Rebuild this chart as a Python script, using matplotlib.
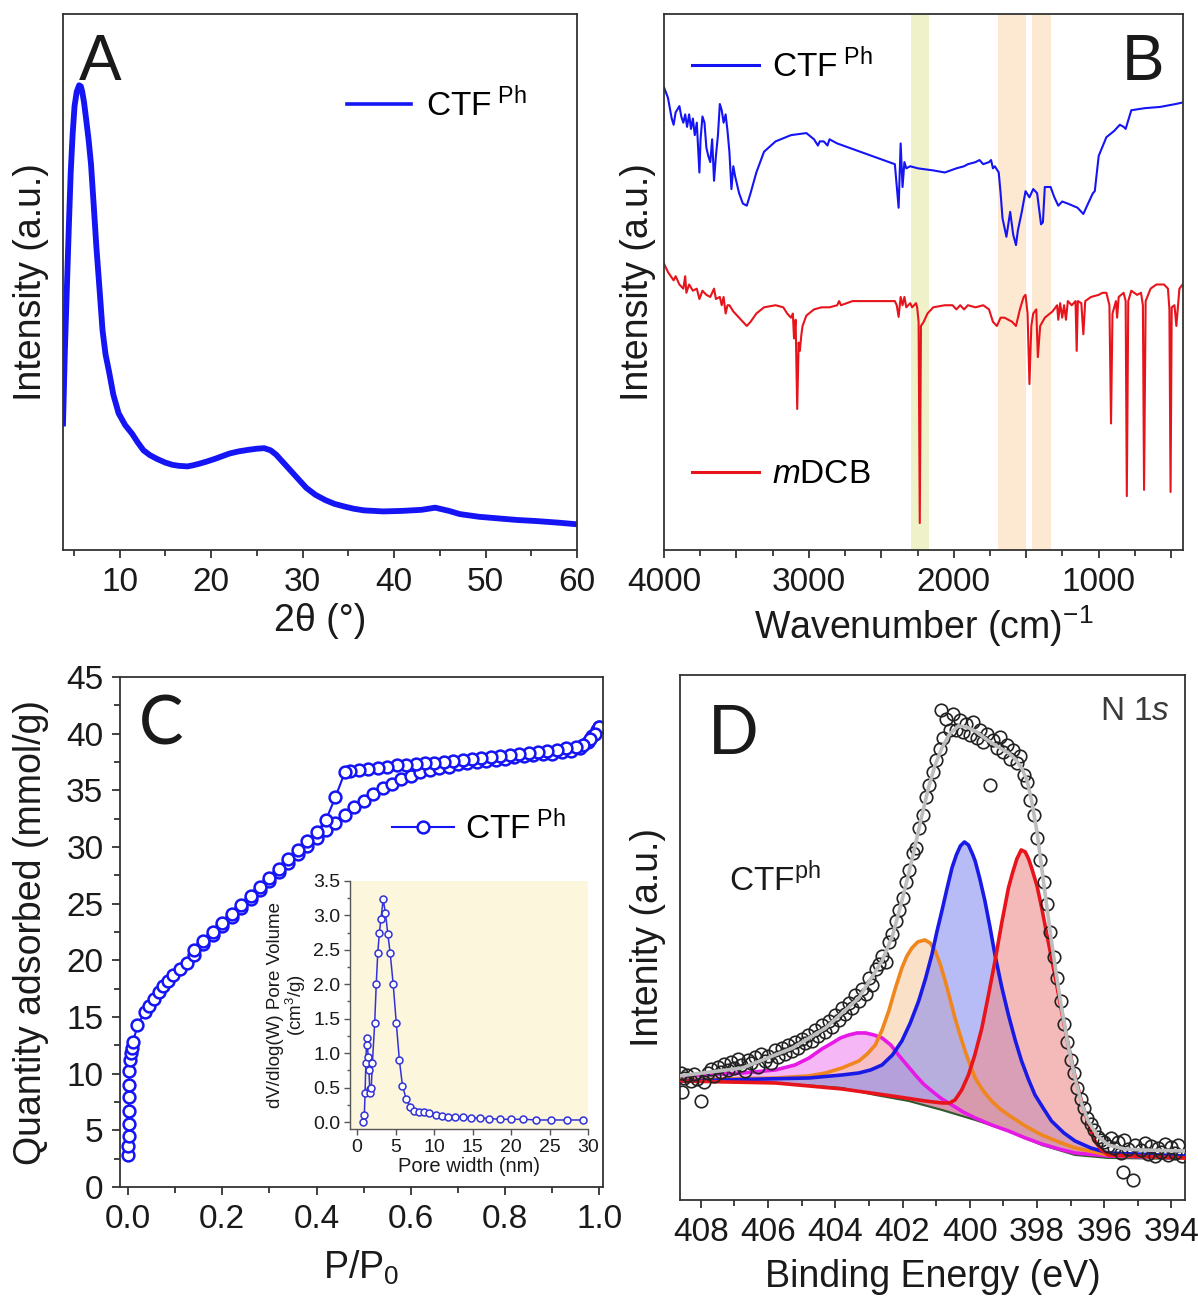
import numpy as np
import matplotlib
matplotlib.use("Agg")
import matplotlib.pyplot as plt
from matplotlib.ticker import MultipleLocator, FuncFormatter

plt.rcParams["font.family"] = ["Liberation Sans", "DejaVu Sans"]
plt.rcParams["mathtext.fontset"] = "custom"
plt.rcParams["mathtext.rm"] = "Liberation Sans"
plt.rcParams["mathtext.it"] = "Liberation Sans:italic"
plt.rcParams["mathtext.bf"] = "Liberation Sans:bold"

# ---------------- data ----------------
# A: XRD
xrd_2theta = [3.8, 4.0, 4.22, 4.43, 4.64, 4.85, 5.06, 5.3, 5.56, 5.75, 5.9, 6.1, 6.32, 6.6,
              6.86, 7.15, 7.45, 7.8, 8.12, 8.45, 8.83, 9.3, 9.88, 10.6, 11.35, 12.0, 12.6,
              13.3, 14.07, 15.0, 15.75, 16.5, 17.4, 18.0, 18.7, 19.5, 20.4, 21.2, 22.0,
              23.0, 24.1, 25.0, 25.8, 26.5, 27.1, 27.9, 28.75, 29.6, 30.4, 31.4, 32.5,
              33.5, 34.6, 35.6, 36.7, 38.8, 40.9, 43.0, 44.5, 46.0, 47.2, 49.3, 51.4,
              53.5, 55.6, 58.0, 60.0]
xrd_int = [236, 370, 488, 600, 704, 775, 828, 855, 867, 865, 855, 835, 805, 765,
           720, 645, 565, 485, 410, 365, 333, 290, 255, 233, 217, 200, 186,
           177, 170, 163, 159, 157, 156, 158, 161, 165, 170, 175, 180,
           184, 187, 189, 190, 186, 178, 163, 147, 131, 116, 103, 93,
           86, 81, 77, 74, 72, 73, 75, 79, 73, 67, 62, 59,
           56, 54, 51, 48]

# B: FTIR (wavenumber, intensity a.u.)
ctf_ir = [(4000, 1115), (3973, 1090), (3947, 1040), (3934, 1025), (3920, 1055), (3894, 1070),
          (3881, 1045), (3867, 1030), (3854, 1050), (3841, 1020), (3827, 1050), (3814, 1015),
          (3801, 1040), (3788, 1000), (3774, 1030), (3756, 910), (3748, 990), (3735, 1045),
          (3721, 1030), (3708, 970), (3695, 950), (3681, 935), (3668, 990), (3655, 890),
          (3642, 950), (3628, 1000), (3615, 1075), (3602, 1060), (3589, 1030), (3575, 1050),
          (3562, 1010), (3549, 960), (3535, 870), (3522, 925), (3509, 900), (3482, 860),
          (3456, 835), (3429, 830), (3403, 860), (3363, 910), (3310, 960), (3230, 985),
          (3124, 1000), (3018, 1005), (2965, 990), (2938, 975), (2925, 985), (2898, 985),
          (2872, 975), (2858, 990), (2805, 980), (2646, 960), (2487, 940), (2407, 930),
          (2381, 825), (2367, 980), (2354, 875), (2341, 935), (2328, 920), (2301, 925),
          (2248, 920), (2142, 915), (2062, 910), (1982, 920), (1929, 925), (1903, 930),
          (1850, 935), (1823, 940), (1797, 930), (1757, 935), (1743, 940), (1730, 920),
          (1717, 925), (1690, 910), (1677, 860), (1664, 800), (1637, 755), (1611, 815),
          (1590, 760), (1571, 735), (1558, 770), (1531, 815), (1505, 865), (1478, 850),
          (1452, 870), (1425, 860), (1398, 785), (1385, 790), (1372, 875), (1332, 875),
          (1306, 850), (1279, 830), (1252, 840), (1213, 835), (1146, 825), (1106, 810),
          (1067, 840), (1040, 860), (1027, 865), (1000, 950), (947, 995), (894, 1010),
          (854, 1025), (828, 1020), (814, 1015), (801, 1030), (775, 1060), (682, 1065),
          (576, 1068), (469, 1075), (403, 1080)]
mdcb_ir = [(4000, 690), (3973, 670), (3934, 650), (3920, 660), (3894, 640), (3867, 630),
           (3854, 660), (3846, 620), (3827, 640), (3801, 625), (3774, 630), (3756, 605),
           (3735, 625), (3708, 615), (3681, 610), (3655, 630), (3642, 605), (3615, 610),
           (3602, 590), (3589, 610), (3575, 570), (3562, 590), (3549, 590), (3522, 575),
           (3482, 560), (3456, 550), (3429, 540), (3403, 550), (3363, 570), (3310, 585),
           (3230, 590), (3177, 585), (3150, 570), (3124, 560), (3111, 570), (3103, 510),
           (3092, 555), (3081, 340), (3071, 500), (3063, 480), (3052, 520), (3044, 540),
           (3018, 565), (2965, 580), (2912, 585), (2858, 585), (2805, 590), (2792, 600),
           (2779, 590), (2699, 600), (2593, 600), (2487, 600), (2407, 600), (2394, 590),
           (2381, 562), (2367, 610), (2354, 590), (2341, 610), (2328, 585), (2301, 595),
           (2288, 585), (2274, 590), (2261, 595), (2253, 585), (2243, 550), (2235, 65),
           (2227, 540), (2208, 550), (2182, 570), (2142, 585), (2062, 590), (2009, 590),
           (1982, 580), (1956, 590), (1929, 580), (1903, 590), (1850, 585), (1797, 590),
           (1757, 580), (1730, 550), (1703, 540), (1677, 560), (1650, 560), (1624, 555),
           (1597, 550), (1571, 540), (1544, 580), (1518, 610), (1505, 615), (1491, 570),
           (1478, 400), (1465, 540), (1452, 570), (1431, 580), (1420, 465), (1404, 540),
           (1372, 560), (1319, 575), (1287, 590), (1279, 555), (1266, 595), (1252, 560),
           (1239, 590), (1226, 555), (1213, 600), (1186, 590), (1160, 600), (1152, 480),
           (1144, 600), (1120, 595), (1106, 520), (1093, 600), (1053, 610), (1000, 615),
           (974, 620), (947, 620), (926, 590), (915, 305), (905, 570), (881, 600),
           (873, 560), (862, 610), (828, 620), (814, 600), (806, 130), (796, 600),
           (775, 625), (735, 615), (708, 620), (695, 590), (687, 145), (676, 600),
           (642, 630), (602, 640), (549, 640), (522, 630), (512, 580), (504, 140),
           (496, 585), (477, 590), (464, 540), (443, 630), (421, 640)]
band_cn = (2296, 2174)
bands_tz = [(1697, 1505), (1457, 1327)]

# C: N2 isotherm
ads_p = [0.0005, 0.0008, 0.001, 0.0012, 0.0015, 0.002, 0.0025, 0.003, 0.004, 0.006, 0.008, 0.011,
         0.02, 0.035, 0.045, 0.055, 0.065, 0.075, 0.085, 0.095, 0.11, 0.125, 0.14, 0.16, 0.18,
         0.2, 0.22, 0.24, 0.26, 0.28, 0.30, 0.32, 0.34, 0.36, 0.38, 0.40, 0.42, 0.44, 0.46,
         0.48, 0.50, 0.52, 0.54, 0.56, 0.58, 0.60, 0.62, 0.64, 0.66, 0.68, 0.70, 0.72, 0.74,
         0.76, 0.78, 0.80, 0.82, 0.84, 0.86, 0.88, 0.90, 0.92, 0.94, 0.96, 0.975, 0.985,
         0.995, 1.0]
ads_q = [2.8, 3.6, 4.5, 5.6, 6.7, 7.9, 9.0, 10.2, 11.2, 11.8, 12.3, 12.8,
         14.3, 15.4, 16.0, 16.6, 17.2, 17.7, 18.2, 18.7, 19.2, 19.8, 20.5, 21.4, 22.2,
         23.0, 23.8, 24.6, 25.4, 26.2, 27.0, 27.8, 28.6, 29.4, 30.1, 30.8, 31.5, 32.1, 32.8,
         33.5, 34.1, 34.7, 35.2, 35.6, 36.0, 36.3, 36.6, 36.8, 37.0, 37.1, 37.3, 37.4, 37.5,
         37.6, 37.7, 37.8, 37.9, 38.0, 38.1, 38.2, 38.2, 38.4, 38.5, 38.7, 39.3, 39.8,
         40.3, 40.6]
des_p = [1.0, 0.99, 0.98, 0.965, 0.95, 0.93, 0.91, 0.89, 0.87, 0.85, 0.83, 0.81, 0.79, 0.77,
         0.75, 0.73, 0.71, 0.69, 0.67, 0.65, 0.63, 0.61, 0.59, 0.57, 0.55, 0.53, 0.51, 0.49,
         0.47, 0.46, 0.44, 0.42, 0.40, 0.38, 0.36, 0.34, 0.32, 0.30, 0.28, 0.26, 0.24, 0.22,
         0.20, 0.18, 0.16, 0.14]
des_q = [40.6, 40.0, 39.5, 39.0, 38.8, 38.7, 38.6, 38.5, 38.4, 38.3, 38.2, 38.1, 38.0, 37.9,
         37.85, 37.8, 37.7, 37.6, 37.5, 37.45, 37.4, 37.3, 37.25, 37.2, 37.1, 37.0, 36.9, 36.8,
         36.7, 36.6, 34.4, 32.4, 31.3, 30.5, 29.7, 28.9, 28.1, 27.3, 26.5, 25.7, 24.9, 24.1,
         23.3, 22.5, 21.7, 20.9]

# C inset: pore size distribution
pore_w = [0.8, 0.95, 1.05, 1.15, 1.25, 1.35, 1.45, 1.55, 1.65, 1.75, 1.85, 2.0, 2.3, 2.5,
          2.7, 2.9, 3.1, 3.4, 3.7, 4.0, 4.3, 4.7, 5.1, 5.5, 5.9, 6.4, 6.9, 7.4, 8.0, 8.7,
          9.4, 10.2, 11.0, 11.8, 12.7, 13.7, 14.8, 16.0, 17.2, 18.6, 20.0, 21.6, 23.3, 25.2,
          27.2, 29.4]
pore_v = [0.0, 0.1, 0.42, 0.86, 1.22, 1.12, 0.95, 0.76, 0.48, 0.42, 0.5, 0.86, 1.44, 2.0,
          2.46, 2.74, 2.94, 3.23, 3.03, 2.73, 2.46, 2.0, 1.44, 0.9, 0.53, 0.33, 0.22, 0.16,
          0.14, 0.14, 0.13, 0.1, 0.09, 0.08, 0.08, 0.07, 0.06, 0.06, 0.05, 0.04, 0.04, 0.04,
          0.03, 0.03, 0.03, 0.03]

# D: XPS N 1s (binding energy, intensity a.u.)
xps_raw = [(408.6, 127), (408.55, 108), (408.5, 122), (408.4, 125), (408.3, 119), (408.2, 126),
           (408.1, 121), (408.0, 99), (407.9, 118), (407.8, 127), (407.7, 131), (407.6, 124),
           (407.5, 133), (407.4, 128), (407.3, 136), (407.2, 130), (407.1, 138), (407.0, 132),
           (406.9, 141), (406.8, 135), (406.7, 129), (406.6, 140), (406.5, 137), (406.4, 143),
           (406.3, 133), (406.2, 146), (406.1, 139), (406.0, 144), (405.9, 137), (405.8, 150),
           (405.7, 143), (405.6, 152), (405.5, 146), (405.4, 155), (405.3, 149), (405.2, 158),
           (405.1, 152), (405.0, 161), (404.9, 157), (404.8, 165), (404.7, 159), (404.6, 170),
           (404.5, 164), (404.4, 175), (404.3, 168), (404.2, 179), (404.1, 173), (404.0, 185),
           (403.9, 180), (403.8, 192), (403.7, 186), (403.6, 197), (403.5, 192), (403.4, 205),
           (403.3, 199), (403.2, 211), (403.1, 206), (403.0, 222), (402.9, 215), (402.8, 231),
           (402.7, 236), (402.6, 244), (402.5, 238), (402.4, 258), (402.3, 266), (402.2, 279),
           (402.1, 290), (402.0, 302), (401.9, 318), (401.8, 330), (401.7, 347), (401.6, 352),
           (401.5, 372), (401.4, 385), (401.3, 403), (401.2, 415), (401.1, 428), (401.0, 440),
           (400.9, 451), (400.85, 490), (400.8, 462), (400.7, 481), (400.6, 470), (400.5, 486),
           (400.4, 470), (400.3, 480), (400.2, 468), (400.1, 476), (400.0, 465), (399.9, 478),
           (399.8, 462), (399.7, 470), (399.6, 458), (399.5, 466), (399.4, 415), (399.3, 460),
           (399.2, 452), (399.1, 463), (399.0, 448), (398.9, 455), (398.8, 441), (398.7, 450),
           (398.6, 437), (398.5, 444), (398.4, 425), (398.3, 418), (398.2, 400), (398.1, 385),
           (398.0, 362), (397.9, 340), (397.8, 318), (397.7, 296), (397.6, 268), (397.5, 243),
           (397.4, 222), (397.3, 199), (397.2, 176), (397.1, 158), (397.0, 140), (396.9, 127),
           (396.8, 112), (396.7, 101), (396.6, 92), (396.5, 82), (396.4, 76), (396.3, 70),
           (396.2, 63), (396.1, 60), (396.0, 58), (395.9, 54), (395.8, 62), (395.7, 52),
           (395.6, 58), (395.5, 47), (395.45, 28), (395.4, 60), (395.3, 51), (395.15, 20),
           (395.1, 55), (394.9, 50), (394.8, 57), (394.7, 46), (394.6, 54), (394.5, 44),
           (394.4, 52), (394.3, 48), (394.2, 56), (394.1, 45), (394.0, 53), (393.9, 47),
           (393.8, 55), (393.7, 44)]
xps_env = [(408.66, 124), (406.76, 132), (405.27, 152), (404.29, 172), (403.3, 202),
           (402.61, 239), (402.3, 264), (402.02, 299), (401.82, 326), (401.62, 355),
           (401.42, 385), (401.23, 412), (401.03, 435), (400.83, 452), (400.6, 466),
           (400.34, 474), (400.1, 473), (399.84, 469), (399.6, 463), (399.35, 457),
           (399.1, 452), (398.85, 447), (398.65, 441), (398.46, 432), (398.3, 420),
           (398.16, 399), (398.0, 368), (397.86, 332), (397.72, 296), (397.57, 259),
           (397.42, 224), (397.27, 192), (397.07, 154), (396.87, 122), (396.68, 97),
           (396.48, 79), (396.2, 64), (395.88, 55), (395.4, 51), (394.89, 50), (393.6, 49)]
xps_bg = [(408.66, 119), (405.78, 117), (403.8, 112), (402.81, 105), (401.82, 99),
          (400.83, 90), (399.84, 80), (398.85, 69), (397.86, 55), (396.87, 45),
          (395.88, 42), (393.6, 41)]
peak_magenta = [(408.66, 124), (406.76, 127), (405.78, 130), (405.2, 135), (404.78, 142),
                (404.4, 151), (404.09, 157), (403.85, 162), (403.6, 165), (403.35, 167),
                (403.1, 167), (402.85, 165), (402.61, 162), (402.35, 155), (402.12, 145),
                (401.87, 135), (401.62, 125), (401.38, 116), (401.13, 109), (400.83, 101),
                (400.53, 95), (400.2, 88), (399.84, 82), (399.35, 75), (398.85, 69),
                (398.35, 62), (397.86, 56), (397.35, 51), (396.87, 47), (395.88, 44),
                (393.6, 42)]
peak_orange = [(408.66, 120), (405.78, 122), (404.8, 124), (404.29, 127), (403.8, 132),
               (403.3, 139), (403.05, 146), (402.81, 155), (402.61, 170), (402.41, 189),
               (402.22, 211), (402.02, 232), (401.87, 244), (401.72, 252), (401.55, 258),
               (401.34, 260), (401.18, 257), (401.03, 249), (400.88, 236), (400.73, 219),
               (400.58, 200), (400.44, 182), (400.29, 165), (400.14, 149), (399.99, 135),
               (399.84, 122), (399.6, 109), (399.35, 99), (399.1, 91), (398.85, 85),
               (398.35, 74), (397.86, 65), (397.35, 58), (396.87, 52), (395.88, 45),
               (393.6, 42)]
peak_blue = [(408.66, 119), (404.78, 122), (403.8, 125), (403.3, 127), (402.95, 130),
             (402.61, 135), (402.3, 145), (402.02, 159), (401.77, 177), (401.52, 199),
             (401.32, 221), (401.13, 245), (400.98, 268), (400.83, 289), (400.68, 311),
             (400.53, 332), (400.4, 345), (400.28, 354), (400.16, 358), (400.04, 355),
             (399.92, 346), (399.84, 339), (399.7, 321), (399.55, 299), (399.4, 273),
             (399.25, 245), (399.05, 213), (398.85, 185), (398.65, 160), (398.46, 139),
             (398.26, 121), (398.06, 105), (397.8, 91), (397.57, 79), (397.2, 67),
             (396.87, 59), (396.4, 52), (395.88, 47), (393.6, 44)]
peak_red = [(408.66, 119), (405.78, 117), (403.8, 111), (402.31, 104), (401.32, 99),
            (400.83, 97), (400.6, 97), (400.44, 100), (400.24, 110), (400.04, 125),
            (399.85, 145), (399.64, 172), (399.45, 204), (399.25, 239), (399.05, 277),
            (398.85, 312), (398.72, 328), (398.6, 341), (398.47, 350), (398.35, 348),
            (398.25, 341), (398.16, 332), (398.0, 314), (397.86, 292), (397.67, 259),
            (397.47, 225), (397.27, 189), (397.07, 155), (396.88, 125), (396.68, 99),
            (396.48, 77), (396.28, 59), (396.08, 50), (395.88, 45), (393.6, 42)]

blue = "#1414f5"
red = "#e8141c"
txt = "#1a1a1a"


def style(ax):
    for s in ax.spines.values():
        s.set_linewidth(1.3)
        s.set_color("#333333")
    ax.tick_params(which="both", direction="out", width=1.3, labelsize=24,
                   color="#333333", labelcolor=txt, pad=6)
    ax.tick_params(which="major", length=6)
    ax.tick_params(which="minor", length=4)


fig = plt.figure(figsize=(11.98, 12.96), dpi=100)

# ---------------- A ----------------
axA = fig.add_axes([0.0526, 0.5756, 0.4290, 0.4136])
axA.plot(xrd_2theta, xrd_int, color=blue, lw=4.2, solid_joinstyle="round",
         label=r"CTF$^{\mathrm{\ Ph}}$")
axA.set_xlim(3.8, 60)
axA.set_ylim(0, 1000)
axA.xaxis.set_major_locator(MultipleLocator(10))
axA.xaxis.set_minor_locator(MultipleLocator(5))
axA.set_yticks([])
style(axA)
axA.set_xlabel("2θ (°)", fontsize=27, color=txt, labelpad=4)
axA.set_ylabel("Intensity (a.u.)", fontsize=27, color=txt, labelpad=10)
axA.text(0.03, 0.965, "A", transform=axA.transAxes, fontsize=46, va="top", ha="left", color=txt)
legA = axA.legend(loc="center left", bbox_to_anchor=(0.553, 0.83), frameon=False, fontsize=24,
                  handlelength=1.9, handletextpad=0.45, borderpad=0, borderaxespad=0)
legA.get_lines()[0].set_linewidth(2.6)

# ---------------- B ----------------
axB = fig.add_axes([0.5543, 0.5756, 0.4332, 0.4136])
for lo, hi in [band_cn]:
    axB.axvspan(lo, hi, color="#eef0c4", alpha=0.9, lw=0, zorder=0)
for lo, hi in bands_tz:
    axB.axvspan(lo, hi, color="#fde6cc", alpha=0.9, lw=0, zorder=0)
ctf_wn, ctf_int = zip(*ctf_ir)
mdcb_wn, mdcb_int = zip(*mdcb_ir)
lB1, = axB.plot(ctf_wn, ctf_int, color=blue, lw=1.5)
lB2, = axB.plot(mdcb_wn, mdcb_int, color=red, lw=1.5)
axB.set_xlim(4000, 418)
axB.set_ylim(0, 1292)
axB.xaxis.set_major_locator(MultipleLocator(500))
axB.xaxis.set_minor_locator(MultipleLocator(250))
axB.xaxis.set_major_formatter(FuncFormatter(
    lambda v, p: f"{int(round(v))}" if int(round(v)) % 1000 == 0 else ""))
axB.set_yticks([])
style(axB)
axB.set_xlabel(r"Wavenumber (cm)$^{-1}$", fontsize=27, color=txt, labelpad=4)
axB.set_ylabel("Intensity (a.u.)", fontsize=27, color=txt, labelpad=6)
axB.text(0.965, 0.965, "B", transform=axB.transAxes, fontsize=46, va="top", ha="right", color=txt)
legB1 = axB.legend([lB1], [r"CTF$^{\mathrm{\ Ph}}$"], loc="center left",
                   bbox_to_anchor=(0.054, 0.903), frameon=False, fontsize=24,
                   handlelength=2.0, handletextpad=0.4, borderpad=0, borderaxespad=0)
legB1.get_lines()[0].set_linewidth(2.2)
axB.add_artist(legB1)
legB2 = axB.legend([lB2], [r"$m$DCB"], loc="center left", bbox_to_anchor=(0.054, 0.14),
                   frameon=False, fontsize=24, handlelength=2.0, handletextpad=0.4,
                   borderpad=0, borderaxespad=0)
legB2.get_lines()[0].set_linewidth(2.2)

# ---------------- C ----------------
axC = fig.add_axes([0.1002, 0.0841, 0.4032, 0.3935])
mk = dict(marker="o", ms=8.5, mfc="white", mec=blue, mew=1.8, color=blue, lw=1.5)
lC, = axC.plot(ads_p, ads_q, **mk)
axC.plot(des_p, des_q, **mk)
axC.set_xlim(-0.017, 1.008)
axC.set_ylim(0, 45)
axC.xaxis.set_major_locator(MultipleLocator(0.2))
axC.xaxis.set_minor_locator(MultipleLocator(0.1))
axC.yaxis.set_major_locator(MultipleLocator(5))
axC.yaxis.set_minor_locator(MultipleLocator(2.5))
axC.xaxis.set_major_formatter(FuncFormatter(lambda v, p: f"{v:.1f}"))
style(axC)
axC.set_xlabel(r"P/P$_0$", fontsize=27, color=txt, labelpad=10)
axC.set_ylabel("Quantity adsorbed (mmol/g)", fontsize=27, color=txt, labelpad=12)
axC.text(0.04, 0.965, "C", transform=axC.transAxes, fontsize=48, va="top", ha="left",
         color=txt, family=["Lato", "DejaVu Sans"])
axC.legend([lC], [r"CTF$^{\mathrm{\ Ph}}$"], loc="center left", bbox_to_anchor=(0.563, 0.704),
           frameon=False, fontsize=24, handlelength=1.85, handletextpad=0.35, numpoints=1,
           borderpad=0, borderaxespad=0)

# inset
axI = fig.add_axes([0.2922, 0.1289, 0.1987, 0.1914])
axI.set_facecolor("#fbf6dc")
axI.plot(pore_w, pore_v, marker="o", ms=5, mfc="white", mec="#3232d8", mew=1.1,
         color="#3232d8", lw=1.1)
axI.set_xlim(-0.9, 30)
axI.set_ylim(-0.1, 3.5)
axI.xaxis.set_major_locator(MultipleLocator(5))
axI.yaxis.set_major_locator(MultipleLocator(0.5))
axI.yaxis.set_minor_locator(MultipleLocator(0.25))
axI.yaxis.set_major_formatter(FuncFormatter(lambda v, p: f"{v:.1f}"))
axI.spines["top"].set_visible(False)
axI.spines["right"].set_visible(False)
for s in ["left", "bottom"]:
    axI.spines[s].set_color("#555555")
    axI.spines[s].set_linewidth(1.0)
axI.tick_params(which="both", direction="out", width=1.0, labelsize=14, color="#555555",
                labelcolor=txt, pad=3)
axI.tick_params(which="major", length=4)
axI.tick_params(which="minor", length=2.5)
axI.set_xlabel("Pore width (nm)", fontsize=14.5, color=txt, labelpad=1)
axI.set_ylabel("dV/dlog(W) Pore Volume\n(cm$^3$/g)", fontsize=13.5, color=txt,
               labelpad=4, linespacing=1.0)

# ---------------- D ----------------
axD = fig.add_axes([0.5676, 0.0741, 0.4215, 0.4051])
bg_e, bg_i = zip(*xps_bg)
comps = [(peak_magenta, "#e619e6", "#ee7cee", 0.55),
         (peak_orange, "#f0861e", "#f9c89c", 0.55),
         (peak_blue, "#1a1ae6", "#7f86f0", 0.55),
         (peak_red, "#e8141c", "#ee8c8c", 0.6)]
for pts, line_c, fill_c, a in comps:
    pe, pi = zip(*pts)
    axD.fill(list(pe) + list(bg_e[::-1]), list(pi) + list(bg_i[::-1]),
             color=fill_c, alpha=a, lw=0, zorder=1)
axD.plot(bg_e, bg_i, color="#2e5a2e", lw=1.5, zorder=2)
for pts, line_c, fill_c, a in comps:
    pe, pi = zip(*pts)
    axD.plot(pe, pi, color=line_c, lw=2.6, zorder=3, solid_joinstyle="round")
raw_e, raw_i = zip(*xps_raw)
axD.plot(raw_e, raw_i, ls="none", marker="o", ms=9, mfc="none", mec="#222222", mew=1.2,
         zorder=4)
env_e, env_i = zip(*xps_env)
axD.plot(env_e, env_i, color="#bdbdbd", lw=2.6, zorder=5, solid_joinstyle="round")
axD.set_xlim(408.62, 393.6)
axD.set_ylim(0, 525)
axD.xaxis.set_major_locator(MultipleLocator(2))
axD.xaxis.set_minor_locator(MultipleLocator(1))
axD.set_yticks([])
style(axD)
axD.set_xlabel("Binding Energy (eV)", fontsize=27, color=txt, labelpad=8)
axD.set_ylabel("Intenity (a.u.)", fontsize=27, color=txt, labelpad=10)
axD.text(0.055, 0.945, "D", transform=axD.transAxes, fontsize=48, va="top", ha="left",
         color=txt, family=["Lato", "DejaVu Sans"])
axD.text(0.97, 0.96, r"N 1$s$", transform=axD.transAxes, fontsize=24, va="top", ha="right",
         color="#3a3a3a")
axD.text(407.15, 320, r"CTF$^{\mathrm{ph}}$", fontsize=24, va="center", ha="left", color=txt)

fig.savefig("out.png", dpi=100)
